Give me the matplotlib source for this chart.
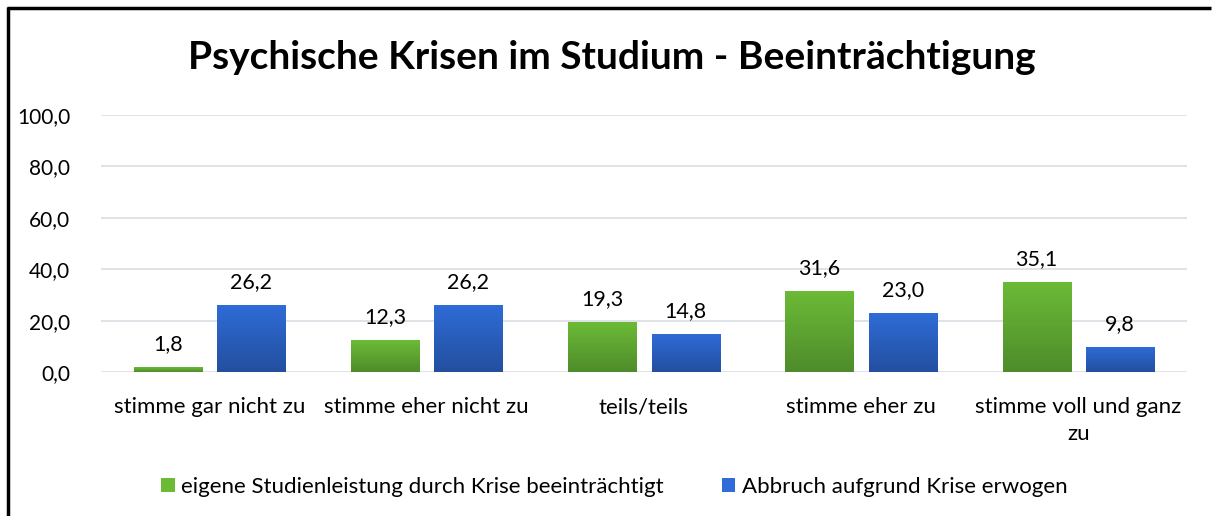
import numpy as np
import matplotlib.pyplot as plt
from matplotlib.colors import LinearSegmentedColormap

plt.rcParams['font.family'] = ['Lato', 'DejaVu Sans']

# data
categories = ["stimme gar nicht zu", "stimme eher nicht zu", "teils/teils",
              "stimme eher zu", "stimme voll und ganz\nzu"]
leistung = [1.8, 12.3, 19.3, 31.6, 35.1]
abbruch = [26.2, 26.2, 14.8, 23.0, 9.8]
series_names = ["eigene Studienleistung durch Krise beeinträchtigt",
                "Abbruch aufgrund Krise erwogen"]
yticks = [0, 20, 40, 60, 80, 100]

green_top, green_bot = "#6cbb37", "#4e8c2b"
blue_top, blue_bot = "#2f6cd8", "#234f9f"

fig = plt.figure(figsize=(12.12, 5.16), dpi=100)
ax = fig.add_axes([0.0833, 0.279, 0.896, 0.498])

x = np.arange(len(categories))
width = 0.314
off = 0.192

def gradient_bars(bars, top, bot):
    cmap = LinearSegmentedColormap.from_list("g", [bot, top])
    grad = np.linspace(0, 1, 100).reshape(-1, 1)
    for b in bars:
        x0, y0, w, h = b.get_x(), b.get_y(), b.get_width(), b.get_height()
        im = ax.imshow(grad, extent=(x0, x0 + w, y0, y0 + h), origin="lower",
                       cmap=cmap, aspect="auto", zorder=3)
        im.set_clip_path(b)

b1 = ax.bar(x - off, leistung, width, color=green_top, zorder=2, label=series_names[0])
b2 = ax.bar(x + off, abbruch, width, color=blue_top, zorder=2, label=series_names[1])
gradient_bars(b1, green_top, green_bot)
gradient_bars(b2, blue_top, blue_bot)

def fmt(v):
    return f"{v:.1f}".replace(".", ",")

for bars, vals in [(b1, leistung), (b2, abbruch)]:
    for b, v in zip(bars, vals):
        ax.text(b.get_x() + b.get_width() / 2, v + 5.0, fmt(v), ha="center",
                va="bottom", fontsize=15.5, color="#000000")

ax.set_xlim(-0.5, len(categories) - 0.5)
ax.set_ylim(0, 100)
ax.set_yticks(yticks)
ax.set_yticklabels([fmt(v) for v in yticks])
ax.set_xticks(x)
ax.set_xticklabels(categories, linespacing=1.45)
ax.tick_params(axis="both", length=0, labelsize=16, colors="#000000")
ax.tick_params(axis="y", labelsize=15, pad=22)
ax.tick_params(axis="x", pad=18)
for s in ax.spines.values():
    s.set_visible(False)
ax.yaxis.grid(True, color="#d9dde3", linewidth=1.2, zorder=0)
ax.set_axisbelow(True)

fig.text(0.505, 0.888, "Psychische Krisen im Studium - Beeinträchtigung",
         ha="center", va="center", fontsize=28, fontweight="bold")

leg = fig.legend(handles=[b1, b2], labels=series_names, loc="center",
                 bbox_to_anchor=(0.507, 0.057), ncol=2, frameon=False,
                 fontsize=16, handlelength=0.6, handleheight=0.6,
                 handletextpad=0.3, columnspacing=2.6)

# outer frame (left and top edges visible in the reference)
fig.add_artist(plt.Line2D([0.0066, 0.0066], [0, 0.986], color="black", lw=2.5,
                          solid_capstyle="butt", transform=fig.transFigure))
fig.add_artist(plt.Line2D([0.0056, 0.9995], [0.985, 0.985], color="black", lw=2.5,
                          solid_capstyle="butt", transform=fig.transFigure))

fig.savefig("out.png", dpi=100)
